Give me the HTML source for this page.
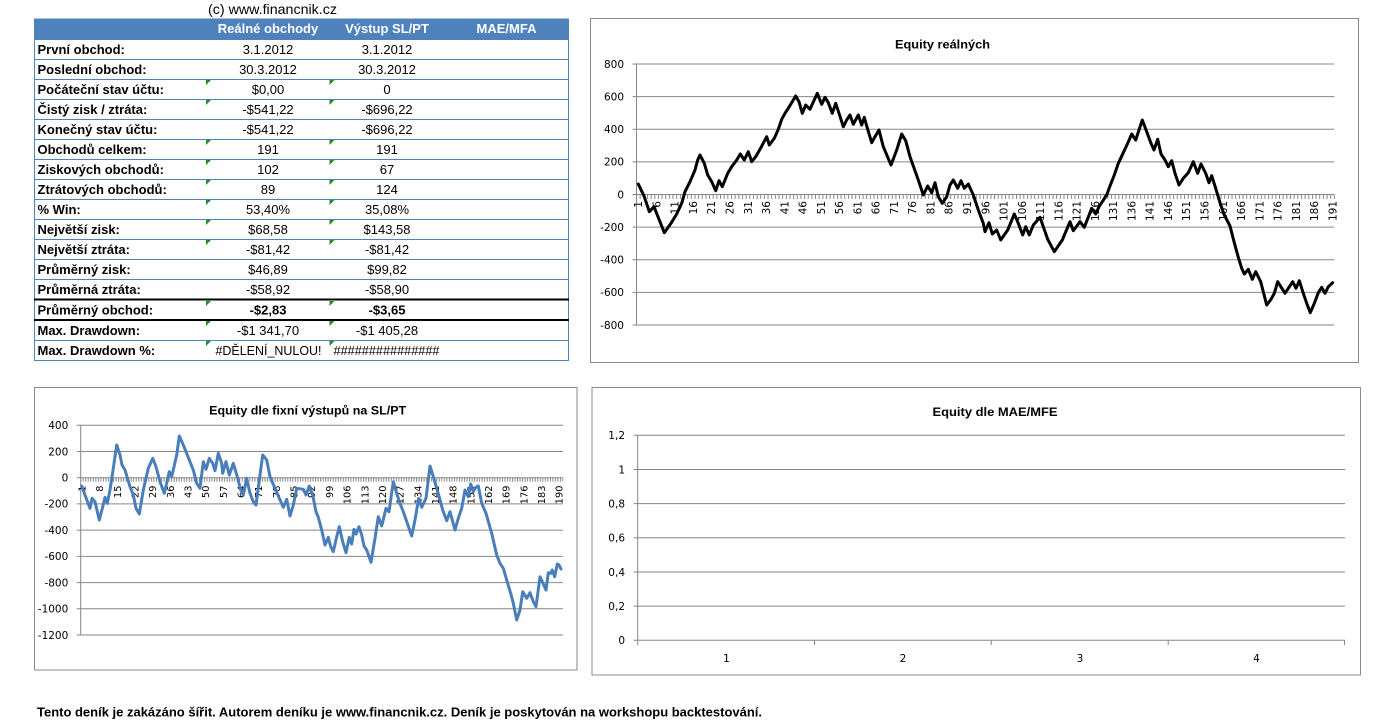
<!DOCTYPE html>
<html><head><meta charset="utf-8"><style>
html,body{margin:0;padding:0;background:#fff;}
svg{display:block;}
</style></head><body>
<svg width="1375" height="721" viewBox="0 0 1375 721" xmlns="http://www.w3.org/2000/svg">
<defs>
<pattern id="tk1" patternUnits="userSpaceOnUse" x="636" y="0" width="3.6537" height="10"><rect x="0" y="0" width="1" height="10" fill="#868686"/></pattern>
<pattern id="tk2" patternUnits="userSpaceOnUse" x="80.2" y="0" width="2.5251" height="10"><rect x="0" y="0" width="1" height="10" fill="#868686"/></pattern>
</defs>
<rect x="0" y="0" width="1375" height="721" fill="#fff"/>

<!-- ============ TABLE ============ -->
<text x="208" y="14" font-family="'Liberation Sans', sans-serif" font-size="13.5" textLength="129" lengthAdjust="spacingAndGlyphs" fill="#000">(c) www.financnik.cz</text>
<rect x="34" y="18.5" width="535" height="20.5" fill="#4F81BD"/>
<g font-family="'Liberation Sans', sans-serif" font-size="13" font-weight="bold" fill="#fff" text-anchor="middle">
<text x="268" y="33">Reálné obchody</text>
<text x="387" y="33">Výstup SL/PT</text>
<text x="506.5" y="33">MAE/MFA</text>
</g>
<g stroke="#4F81BD" stroke-width="1" fill="none">
<line x1="34" y1="39.5" x2="569" y2="39.5"/>
<line x1="34" y1="59.5" x2="569" y2="59.5"/>
<line x1="34" y1="79.5" x2="569" y2="79.5"/>
<line x1="34" y1="99.5" x2="569" y2="99.5"/>
<line x1="34" y1="119.5" x2="569" y2="119.5"/>
<line x1="34" y1="139.5" x2="569" y2="139.5"/>
<line x1="34" y1="159.5" x2="569" y2="159.5"/>
<line x1="34" y1="179.5" x2="569" y2="179.5"/>
<line x1="34" y1="199.5" x2="569" y2="199.5"/>
<line x1="34" y1="219.5" x2="569" y2="219.5"/>
<line x1="34" y1="239.5" x2="569" y2="239.5"/>
<line x1="34" y1="259.5" x2="569" y2="259.5"/>
<line x1="34" y1="279.5" x2="569" y2="279.5"/>
<line x1="34" y1="340.5" x2="569" y2="340.5"/>
<line x1="34" y1="360.5" x2="569" y2="360.5"/>
<line x1="34.5" y1="18.5" x2="34.5" y2="360.5"/>
<line x1="568.5" y1="18.5" x2="568.5" y2="360.5"/>
</g>
<g stroke="#000" stroke-width="2">
<line x1="34" y1="299.5" x2="569" y2="299.5"/>
<line x1="34" y1="320" x2="569" y2="320"/>
</g>
<!-- green indicators -->
<g fill="#1f8f1f">
<polygon points="206,80 211,80 206,85"/><polygon points="329.5,80 334.5,80 329.5,85"/>
<polygon points="206,100 211,100 206,105"/><polygon points="329.5,100 334.5,100 329.5,105"/>
<polygon points="206,140 211,140 206,145"/><polygon points="329.5,140 334.5,140 329.5,145"/>
<polygon points="206,160 211,160 206,165"/><polygon points="329.5,160 334.5,160 329.5,165"/>
<polygon points="206,180 211,180 206,185"/><polygon points="329.5,180 334.5,180 329.5,185"/>
<polygon points="206,200 211,200 206,205"/><polygon points="329.5,200 334.5,200 329.5,205"/>
<polygon points="206,220 211,220 206,225"/><polygon points="329.5,220 334.5,220 329.5,225"/>
<polygon points="206,240 211,240 206,245"/><polygon points="329.5,240 334.5,240 329.5,245"/>
<polygon points="206,301 211,301 206,306"/><polygon points="329.5,301 334.5,301 329.5,306"/>
<polygon points="206,321 211,321 206,326"/><polygon points="329.5,321 334.5,321 329.5,326"/>
<polygon points="206,341 211,341 206,346"/><polygon points="329.5,341 334.5,341 329.5,346"/>
</g>
<g font-family="'Liberation Sans', sans-serif" font-size="13" font-weight="bold" fill="#000">
<text x="37.5" y="54">První obchod:</text>
<text x="37.5" y="74">Poslední obchod:</text>
<text x="37.5" y="94">Počáteční stav účtu:</text>
<text x="37.5" y="114">Čistý zisk / ztráta:</text>
<text x="37.5" y="134">Konečný stav účtu:</text>
<text x="37.5" y="154">Obchodů celkem:</text>
<text x="37.5" y="174">Ziskových obchodů:</text>
<text x="37.5" y="194">Ztrátových obchodů:</text>
<text x="37.5" y="214">% Win:</text>
<text x="37.5" y="234">Největší zisk:</text>
<text x="37.5" y="254">Největší ztráta:</text>
<text x="37.5" y="274">Průměrný zisk:</text>
<text x="37.5" y="294">Průměrná ztráta:</text>
<text x="37.5" y="314.5">Průměrný obchod:</text>
<text x="37.5" y="335">Max. Drawdown:</text>
<text x="37.5" y="355">Max. Drawdown %:</text>
</g>
<g font-family="'Liberation Sans', sans-serif" font-size="13" fill="#000" text-anchor="middle">
<text x="268" y="54">3.1.2012</text><text x="387" y="54">3.1.2012</text>
<text x="268" y="74">30.3.2012</text><text x="387" y="74">30.3.2012</text>
<text x="268" y="94">$0,00</text><text x="387" y="94">0</text>
<text x="268" y="114">-$541,22</text><text x="387" y="114">-$696,22</text>
<text x="268" y="134">-$541,22</text><text x="387" y="134">-$696,22</text>
<text x="268" y="154">191</text><text x="387" y="154">191</text>
<text x="268" y="174">102</text><text x="387" y="174">67</text>
<text x="268" y="194">89</text><text x="387" y="194">124</text>
<text x="268" y="214">53,40%</text><text x="387" y="214">35,08%</text>
<text x="268" y="234">$68,58</text><text x="387" y="234">$143,58</text>
<text x="268" y="254">-$81,42</text><text x="387" y="254">-$81,42</text>
<text x="268" y="274">$46,89</text><text x="387" y="274">$99,82</text>
<text x="268" y="294">-$58,92</text><text x="387" y="294">-$58,90</text>
<text x="268" y="314.5" font-weight="bold">-$2,83</text><text x="387" y="314.5" font-weight="bold">-$3,65</text>
<text x="268" y="335">-$1 341,70</text><text x="387" y="335">-$1 405,28</text>
<text x="268.5" y="355" textLength="106" lengthAdjust="spacingAndGlyphs">#DĚLENÍ_NULOU!</text>
<text x="386.5" y="355" textLength="106" lengthAdjust="spacingAndGlyphs">###############</text>
</g>

<!-- ============ CHART 1 ============ -->
<rect x="590.5" y="18.5" width="768" height="344" fill="#fff" stroke="#898989" stroke-width="1"/>
<text x="942.5" y="48.5" font-family="'Liberation Sans', sans-serif" font-size="12" font-weight="bold" text-anchor="middle" textLength="95" lengthAdjust="spacingAndGlyphs" fill="#000">Equity reálných</text>
<g stroke="#868686" stroke-width="1">
<line x1="632.5" y1="64" x2="1334.3" y2="64"/>
<line x1="632.5" y1="96.6" x2="1334.3" y2="96.6"/>
<line x1="632.5" y1="129.3" x2="1334.3" y2="129.3"/>
<line x1="632.5" y1="161.9" x2="1334.3" y2="161.9"/>
<line x1="632.5" y1="194.5" x2="1334.3" y2="194.5"/>
<line x1="632.5" y1="227.1" x2="1334.3" y2="227.1"/>
<line x1="632.5" y1="259.8" x2="1334.3" y2="259.8"/>
<line x1="632.5" y1="292.4" x2="1334.3" y2="292.4"/>
<line x1="632.5" y1="325" x2="1334.3" y2="325"/>
<line x1="636.5" y1="64" x2="636.5" y2="325"/>
</g>
<rect x="636" y="194.5" width="699" height="4.5" fill="url(#tk1)"/>
<g font-family="'DejaVu Sans', sans-serif" font-size="10.5" fill="#000" text-anchor="end">
<text x="624" y="67.8">800</text>
<text x="624" y="100.4">600</text>
<text x="624" y="133.1">400</text>
<text x="624" y="165.7">200</text>
<text x="624" y="198.3">0</text>
<text x="624" y="230.9">-200</text>
<text x="624" y="263.6">-400</text>
<text x="624" y="296.2">-600</text>
<text x="624" y="328.8">-800</text>
</g>
<g font-family="'DejaVu Sans', sans-serif" font-size="10.5" fill="#000" text-anchor="end">
<text transform="translate(638.3,201) rotate(-90)" dy="0.36em">1</text>
<text transform="translate(656.6,201) rotate(-90)" dy="0.36em">6</text>
<text transform="translate(674.9,201) rotate(-90)" dy="0.36em">11</text>
<text transform="translate(693.1,201) rotate(-90)" dy="0.36em">16</text>
<text transform="translate(711.4,201) rotate(-90)" dy="0.36em">21</text>
<text transform="translate(729.7,201) rotate(-90)" dy="0.36em">26</text>
<text transform="translate(748.0,201) rotate(-90)" dy="0.36em">31</text>
<text transform="translate(766.2,201) rotate(-90)" dy="0.36em">36</text>
<text transform="translate(784.5,201) rotate(-90)" dy="0.36em">41</text>
<text transform="translate(802.8,201) rotate(-90)" dy="0.36em">46</text>
<text transform="translate(821.0,201) rotate(-90)" dy="0.36em">51</text>
<text transform="translate(839.3,201) rotate(-90)" dy="0.36em">56</text>
<text transform="translate(857.6,201) rotate(-90)" dy="0.36em">61</text>
<text transform="translate(875.8,201) rotate(-90)" dy="0.36em">66</text>
<text transform="translate(894.1,201) rotate(-90)" dy="0.36em">71</text>
<text transform="translate(912.4,201) rotate(-90)" dy="0.36em">76</text>
<text transform="translate(930.7,201) rotate(-90)" dy="0.36em">81</text>
<text transform="translate(948.9,201) rotate(-90)" dy="0.36em">86</text>
<text transform="translate(967.2,201) rotate(-90)" dy="0.36em">91</text>
<text transform="translate(985.5,201) rotate(-90)" dy="0.36em">96</text>
<text transform="translate(1003.7,201) rotate(-90)" dy="0.36em">101</text>
<text transform="translate(1022.0,201) rotate(-90)" dy="0.36em">106</text>
<text transform="translate(1040.3,201) rotate(-90)" dy="0.36em">111</text>
<text transform="translate(1058.6,201) rotate(-90)" dy="0.36em">116</text>
<text transform="translate(1076.8,201) rotate(-90)" dy="0.36em">121</text>
<text transform="translate(1095.1,201) rotate(-90)" dy="0.36em">126</text>
<text transform="translate(1113.4,201) rotate(-90)" dy="0.36em">131</text>
<text transform="translate(1131.6,201) rotate(-90)" dy="0.36em">136</text>
<text transform="translate(1149.9,201) rotate(-90)" dy="0.36em">141</text>
<text transform="translate(1168.2,201) rotate(-90)" dy="0.36em">146</text>
<text transform="translate(1186.4,201) rotate(-90)" dy="0.36em">151</text>
<text transform="translate(1204.7,201) rotate(-90)" dy="0.36em">156</text>
<text transform="translate(1223.0,201) rotate(-90)" dy="0.36em">161</text>
<text transform="translate(1241.3,201) rotate(-90)" dy="0.36em">166</text>
<text transform="translate(1259.5,201) rotate(-90)" dy="0.36em">171</text>
<text transform="translate(1277.8,201) rotate(-90)" dy="0.36em">176</text>
<text transform="translate(1296.1,201) rotate(-90)" dy="0.36em">181</text>
<text transform="translate(1314.3,201) rotate(-90)" dy="0.36em">186</text>
<text transform="translate(1332.6,201) rotate(-90)" dy="0.36em">191</text>
</g>
<polyline fill="none" stroke="#000" stroke-width="3" stroke-linejoin="round" stroke-linecap="round" points="638.3,184 644.3,196.7 649.3,211.7 654,206.7 664.3,232.7 671,223.3 676.7,214 681.7,203.3 685,191.7 690,181.7 695,170 697.7,160 700,155 704.3,163.3 707.7,175 711.7,181.7 715.7,190.7 719,180.7 722.3,186.7 727.7,173.3 731.7,166.7 736.7,160 740.3,154 744.3,160 748.3,151.7 751.7,161.7 755.7,156.7 760,149.3 766.7,136.7 769.3,145 774.3,138.3 778.3,129.3 781.7,119.3 785,113.3 788.3,108.3 795.7,96 799,101.7 802.3,113.3 805.7,105 810,109.3 817.3,93.3 821.7,104.3 825,97.3 828.3,102.7 832.3,113.3 835.7,103.3 839,113.3 843.3,126.7 846.7,120 850,115 853.3,124.3 858.3,115 861.7,125 864.3,117.3 866.7,126 871.7,142.7 875,136.7 879,130 883.3,146.7 891,165 896.7,150 901.7,134 905.7,140.7 910,156.7 918.3,180 923.3,195 927.7,186 931.7,192.7 935,182.7 938.3,196.7 942.3,203.3 946.7,196.7 950,185 953.3,180 957.7,188.3 961,180.7 964.3,188.3 968.3,184 973.3,195 978.3,210 983.3,223.3 985,231.7 989,222.7 992.3,234 996.7,230 1000.7,240 1007.7,230 1014.3,214 1018.3,223.3 1022.7,235 1025.7,226.7 1029.3,235 1033.3,225 1040,217.3 1043.3,226.7 1047.7,239.3 1054.3,251.7 1062.3,240 1070,221.7 1073.3,230.7 1080,221.7 1084.3,227.3 1091.7,208.3 1095.7,214 1099,206.7 1106.7,195 1110,186 1114.3,175 1118.3,163.3 1123.3,152.7 1127.7,143.3 1131.7,134 1135.7,140 1142.3,120 1146.7,131.7 1151,143.3 1154,150 1157.7,139.3 1161,154 1165,160 1168.3,166.7 1171.7,160.7 1175,173.3 1179,185 1183.3,178.3 1188.3,172.7 1193.3,161.7 1197.7,173.3 1201,164 1205.7,173.3 1209,182.7 1211.7,175.7 1215.7,188.3 1220,202.7 1224.3,215 1230,226 1234.3,242.7 1238.3,257.3 1241.7,268.3 1244.3,274 1248.3,269.3 1252.3,279.3 1255.7,271.7 1260.7,281.7 1266.7,305 1271,299.3 1274.3,293.3 1277.7,281.7 1285,293.3 1292.7,281.7 1296,288.3 1299.3,280.7 1303.3,293.3 1306.7,303.3 1310.3,312.7 1314.3,303.3 1318.3,292.7 1321.7,287.3 1325,293.3 1328.3,286.7 1332.7,282.7"/>

<!-- ============ CHART 2 ============ -->
<rect x="34.5" y="387.5" width="542.5" height="282.5" fill="#fff" stroke="#898989" stroke-width="1"/>
<text x="307.7" y="414.5" font-family="'Liberation Sans', sans-serif" font-size="12" font-weight="bold" text-anchor="middle" textLength="197" lengthAdjust="spacingAndGlyphs" fill="#000">Equity dle fixní výstupů na SL/PT</text>
<g stroke="#868686" stroke-width="1">
<line x1="76.7" y1="425.3" x2="563" y2="425.3"/>
<line x1="76.7" y1="451.5" x2="563" y2="451.5"/>
<line x1="76.7" y1="477.7" x2="563" y2="477.7"/>
<line x1="76.7" y1="503.9" x2="563" y2="503.9"/>
<line x1="76.7" y1="530.1" x2="563" y2="530.1"/>
<line x1="76.7" y1="556.4" x2="563" y2="556.4"/>
<line x1="76.7" y1="582.6" x2="563" y2="582.6"/>
<line x1="76.7" y1="608.8" x2="563" y2="608.8"/>
<line x1="76.7" y1="635" x2="563" y2="635"/>
<line x1="80.7" y1="425.3" x2="80.7" y2="635"/>
</g>
<rect x="80.2" y="477.7" width="483" height="4" fill="url(#tk2)"/>
<g font-family="'DejaVu Sans', sans-serif" font-size="10.5" fill="#000" text-anchor="end">
<text x="68.3" y="429.1">400</text>
<text x="68.3" y="455.3">200</text>
<text x="68.3" y="481.5">0</text>
<text x="68.3" y="507.7">-200</text>
<text x="68.3" y="533.9">-400</text>
<text x="68.3" y="560.2">-600</text>
<text x="68.3" y="586.4">-800</text>
<text x="68.3" y="612.6">-1000</text>
<text x="68.3" y="638.8">-1200</text>
</g>
<g font-family="'DejaVu Sans', sans-serif" font-size="9.8" fill="#000" text-anchor="end">
<text transform="translate(82.0,485.5) rotate(-90)" dy="0.36em">1</text>
<text transform="translate(99.6,485.5) rotate(-90)" dy="0.36em">8</text>
<text transform="translate(117.3,485.5) rotate(-90)" dy="0.36em">15</text>
<text transform="translate(135.0,485.5) rotate(-90)" dy="0.36em">22</text>
<text transform="translate(152.7,485.5) rotate(-90)" dy="0.36em">29</text>
<text transform="translate(170.3,485.5) rotate(-90)" dy="0.36em">36</text>
<text transform="translate(188.0,485.5) rotate(-90)" dy="0.36em">43</text>
<text transform="translate(205.7,485.5) rotate(-90)" dy="0.36em">50</text>
<text transform="translate(223.4,485.5) rotate(-90)" dy="0.36em">57</text>
<text transform="translate(241.0,485.5) rotate(-90)" dy="0.36em">64</text>
<text transform="translate(258.7,485.5) rotate(-90)" dy="0.36em">71</text>
<text transform="translate(276.4,485.5) rotate(-90)" dy="0.36em">78</text>
<text transform="translate(294.1,485.5) rotate(-90)" dy="0.36em">85</text>
<text transform="translate(311.7,485.5) rotate(-90)" dy="0.36em">92</text>
<text transform="translate(329.4,485.5) rotate(-90)" dy="0.36em">99</text>
<text transform="translate(347.1,485.5) rotate(-90)" dy="0.36em">106</text>
<text transform="translate(364.8,485.5) rotate(-90)" dy="0.36em">113</text>
<text transform="translate(382.4,485.5) rotate(-90)" dy="0.36em">120</text>
<text transform="translate(400.1,485.5) rotate(-90)" dy="0.36em">127</text>
<text transform="translate(417.8,485.5) rotate(-90)" dy="0.36em">134</text>
<text transform="translate(435.5,485.5) rotate(-90)" dy="0.36em">141</text>
<text transform="translate(453.1,485.5) rotate(-90)" dy="0.36em">148</text>
<text transform="translate(470.8,485.5) rotate(-90)" dy="0.36em">155</text>
<text transform="translate(488.5,485.5) rotate(-90)" dy="0.36em">162</text>
<text transform="translate(506.2,485.5) rotate(-90)" dy="0.36em">169</text>
<text transform="translate(523.8,485.5) rotate(-90)" dy="0.36em">176</text>
<text transform="translate(541.5,485.5) rotate(-90)" dy="0.36em">183</text>
<text transform="translate(559.2,485.5) rotate(-90)" dy="0.36em">190</text>
</g>
<polyline fill="none" stroke="#4A7EBB" stroke-width="3" stroke-linejoin="round" stroke-linecap="round" points="81.7,486 85,495 90,508.3 92,498.3 95,501.7 99.3,520 102.7,506.7 105,497.3 107.3,503.3 110,490 113.3,468.3 116.7,445 120,455 122,465 125,470 130,486.7 133.3,495 136,508.3 139.3,514 143.3,490 148.3,468.3 152.7,458.3 156,466.7 160,481.7 164.3,493.3 169.3,471.7 171.7,476.7 176.7,455 179.3,436 184,446.7 189.3,460 193.3,470 196.7,483.3 200,488.3 203.3,461.7 206,469.3 209.3,458.3 212.7,463.3 215,470.7 218.3,453.3 221.7,463.3 222.7,473.3 226,461.7 229.3,475 233.3,463.3 237.3,476.7 240.7,490 243.3,495 246.7,478.3 250,493.3 253.3,501.7 256,505 260,475 262.7,455 266.7,460 270,476.7 275,488.3 279.3,498.3 283.3,507.3 286.7,499.3 290,516 293.3,505 296.7,488.3 303.3,489.3 306,495 309.3,486 312.7,495 316,511.7 318.3,517.3 321.7,530 325,545 328.3,537.3 330.7,546.7 333.3,551.7 336.7,536.7 339.3,526.7 342.7,541.7 346,552.7 349.3,537.3 351.7,544 354,529.3 356,534 359,526.7 361.7,535 364,546 366.7,550 371,562.3 375,538.3 378.3,516.7 381.7,526 386,508.3 389,511.7 393.3,481.7 396.7,493.3 400,503.3 403.3,511.7 407.3,523.3 411.7,536 415,520 418.7,498.3 421.7,507.3 426,498.3 430,466 433.3,476.7 436.7,488.3 439.3,497.3 442.7,510 446.7,520.7 450,511.7 455,530 458.3,518.3 461.7,508.3 465,490 468.3,496.7 470.7,484 473.3,491.7 475.7,487.3 478.3,486 481.7,503.3 486,513.3 491.7,533.3 496.7,555 500,563.3 503.3,568.3 506.7,580 510.7,593.3 513.3,603.3 516.7,620 520,610 522.7,591.7 526.7,598.3 530,592.7 533.3,601.7 536,606.7 540,576.7 543.3,584 546,590 548.3,572.7 550.7,573.3 552.3,570 554.7,576.7 557.3,564 559,565 561,569"/>

<!-- ============ CHART 3 ============ -->
<rect x="592" y="387.5" width="768.5" height="287.5" fill="#fff" stroke="#898989" stroke-width="1"/>
<text x="995" y="416" font-family="'Liberation Sans', sans-serif" font-size="12" font-weight="bold" text-anchor="middle" textLength="125" lengthAdjust="spacingAndGlyphs" fill="#000">Equity dle MAE/MFE</text>
<g stroke="#868686" stroke-width="1">
<line x1="633.7" y1="435.3" x2="1345" y2="435.3"/>
<line x1="633.7" y1="469.5" x2="1345" y2="469.5"/>
<line x1="633.7" y1="503.6" x2="1345" y2="503.6"/>
<line x1="633.7" y1="537.8" x2="1345" y2="537.8"/>
<line x1="633.7" y1="572" x2="1345" y2="572"/>
<line x1="633.7" y1="606.1" x2="1345" y2="606.1"/>
<line x1="633.7" y1="640.3" x2="1345" y2="640.3"/>
<line x1="637.7" y1="435.3" x2="637.7" y2="640.3"/>
<line x1="637.7" y1="640.3" x2="637.7" y2="645"/>
<line x1="814.5" y1="640.3" x2="814.5" y2="645"/>
<line x1="991.3" y1="640.3" x2="991.3" y2="645"/>
<line x1="1168.2" y1="640.3" x2="1168.2" y2="645"/>
<line x1="1344.5" y1="640.3" x2="1344.5" y2="645"/>
</g>
<g font-family="'DejaVu Sans', sans-serif" font-size="10.5" fill="#000" text-anchor="end">
<text x="625" y="439.1">1,2</text>
<text x="625" y="473.3">1</text>
<text x="625" y="507.4">0,8</text>
<text x="625" y="541.6">0,6</text>
<text x="625" y="575.8">0,4</text>
<text x="625" y="609.9">0,2</text>
<text x="625" y="644.1">0</text>
</g>
<g font-family="'DejaVu Sans', sans-serif" font-size="10.5" fill="#000" text-anchor="middle">
<text x="726.5" y="662">1</text>
<text x="903" y="662">2</text>
<text x="1080" y="662">3</text>
<text x="1256.5" y="662">4</text>
</g>

<!-- ============ FOOTER ============ -->
<text x="37" y="716.5" font-family="'Liberation Sans', sans-serif" font-size="13" font-weight="bold" textLength="725" lengthAdjust="spacingAndGlyphs" fill="#000">Tento deník je zakázáno šířit. Autorem deníku je www.financnik.cz. Deník je poskytován na workshopu backtestování.</text>
</svg>
</body></html>
